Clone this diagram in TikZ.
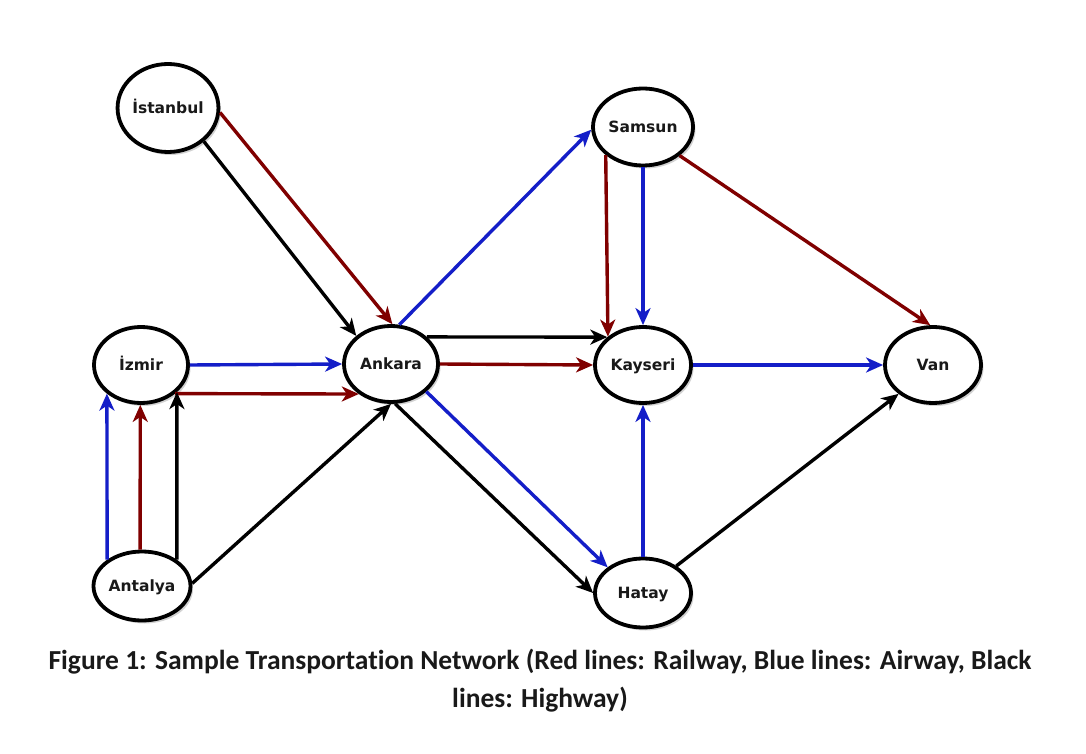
\documentclass[tikz,border=0pt]{standalone}
\usepackage{fontspec}
\setmainfont[Ligatures=NoCommon]{Carlito}
\newfontfamily\nodefont{DejaVu Sans}
\usetikzlibrary{arrows.meta,shapes.geometric,shadows}
\definecolor{rail}{RGB}{128,0,0}
\definecolor{air}{RGB}{20,30,200}
\begin{document}
\begin{tikzpicture}[x=1pt,y=1pt,
 city/.style={ellipse,draw=black,line width=3.8pt,fill=white,inner sep=0pt,
   text height=12pt,text depth=1.4pt,
   font=\nodefont\bfseries\fontsize{15.5}{17}\selectfont,text=black!90,
   drop shadow={shadow xshift=2.5pt,shadow yshift=-3pt,opacity=0.35}},
 link/.style={line width=3.4pt,-{Stealth[length=17pt,width=15pt,inset=5pt]}},
 rl/.style={link,draw=rail},
 al/.style={link,draw=air},
 hl/.style={link,draw=black}]
\useasboundingbox[fill=white] (0,0) rectangle (1086,753);
\node[city,minimum width=97pt,minimum height=88pt] (ist) at (168,645) {İstanbul};
\node[city,minimum width=100pt,minimum height=77pt] (sam) at (643,626) {Samsun};
\node[city,minimum width=94pt,minimum height=76pt] (izm) at (141,388) {İzmir};
\node[city,minimum width=94pt,minimum height=76pt] (ank) at (391,389) {Ankara};
\node[city,minimum width=96pt,minimum height=76pt] (kay) at (643,388) {Kayseri};
\node[city,minimum width=96pt,minimum height=76pt] (van) at (933,388) {Van};
\node[city,minimum width=97pt,minimum height=69pt] (ant) at (142,167) {Antalya};
\node[city,minimum width=96pt,minimum height=69pt] (hat) at (643,160) {Hatay};

\draw[rl] (ist.-5) -- (ank.88);
\draw[hl] (ist.-43) -- (ank.141);
\draw[al] (ank.78) -- (sam.183);
\draw[al] (izm.east) -- (ank.west);
\draw[rl] (izm.-40) -- (ank.-137);
\draw[al] (ant.143) -- (izm.220);
\draw[rl] (ant.93) -- (izm.-91);
\draw[hl] (ant.37) -- (izm.-37);
\draw[hl] (ant.3) -- (ank.-90);
\draw[hl] (ank.37) -- (kay.142);
\draw[rl] (ank.east) -- (kay.west);
\draw[al] (ank.-38) -- (hat.144);
\draw[hl] (ank.-84) -- (hat.west);
\draw[rl] (sam.-143) -- (kay.141);
\draw[al] (sam.south) -- (kay.north);
\draw[rl] (sam.-38) -- (van.94);
\draw[al] (kay.east) -- (van.west);
\draw[al] (hat.north) -- (kay.south);
\draw[hl] (hat.39) -- (van.-140);

\node[align=center,font=\bfseries\fontsize{27.5}{38}\selectfont,text=black!90] (caption) at (540,72)
 {Figure 1: Sample Transportation Network (Red lines: Railway, Blue lines: Airway, Black\\ lines: Highway)};
\end{tikzpicture}
\end{document}
